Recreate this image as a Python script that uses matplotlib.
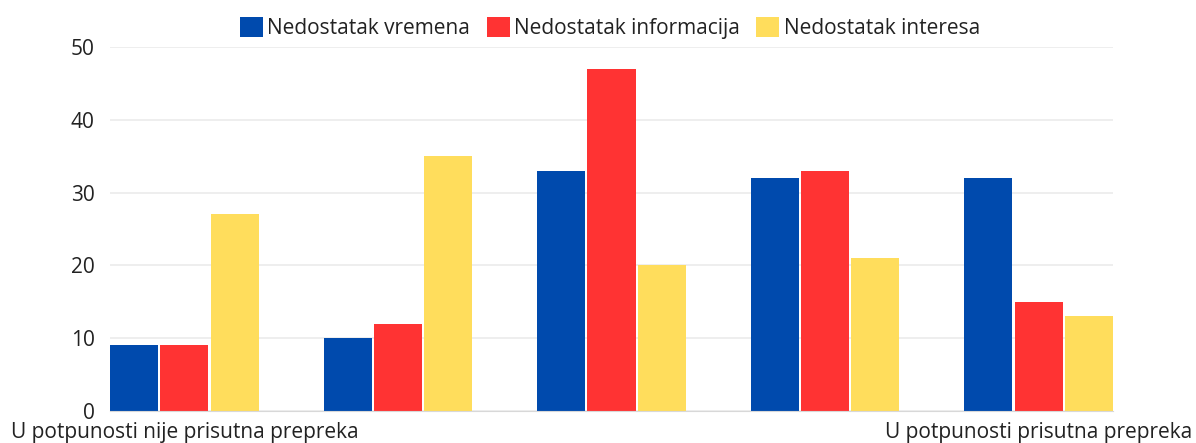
import matplotlib.pyplot as plt
import numpy as np

plt.rcParams['font.family'] = ['Open Sans', 'DejaVu Sans']

categories = ['U potpunosti nije prisutna prepreka', '', '', '', 'U potpunosti prisutna prepreka']
series_names = ['Nedostatak vremena', 'Nedostatak informacija', 'Nedostatak interesa']
vremena = [9, 10, 33, 32, 32]
informacija = [9, 12, 47, 33, 15]
interesa = [27, 35, 20, 21, 13]
colors = ['#004aad', '#ff3333', '#ffdd5c']

fig = plt.figure(figsize=(11.96, 4.43), dpi=100)
ax = fig.add_axes([110 / 1196, 32 / 443, 1003 / 1196, 364 / 443])

x = np.arange(len(categories))
step = 0.2357
width = 0.225
for i, (vals, name) in enumerate(zip([vremena, informacija, interesa], series_names)):
    ax.bar(x + (i - 1) * step, vals, width, color=colors[i], label=name, zorder=3)

ax.set_xlim(x[0] - step - width / 2, x[-1] + step + width / 2)
ax.set_ylim(0, 50)
ax.set_yticks(range(0, 51, 10))
ax.set_xticks(x)
ax.set_xticklabels(categories)
ax.tick_params(axis='both', length=0, labelsize=15, colors='#222222')
ax.tick_params(axis='y', pad=11)
ax.tick_params(axis='x', pad=8)
ax.grid(axis='y', color='#ebebeb', linewidth=1.2, zorder=0)
for s in ['top', 'right', 'left']:
    ax.spines[s].set_visible(False)
ax.spines['bottom'].set_color('#d8d8d8')
ax.spines['bottom'].set_zorder(4)

fig.legend(loc='upper center', bbox_to_anchor=(0.51, 1.005), ncol=3, frameon=False,
           fontsize=15, handlelength=1.1, handleheight=1.1, handletextpad=0.2,
           columnspacing=0.8, labelcolor='#222222')

fig.savefig('out.png', dpi=100)
